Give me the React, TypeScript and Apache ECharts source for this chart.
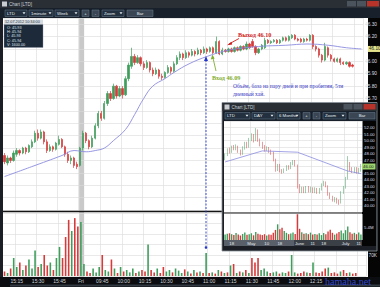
import React, { useEffect, useRef } from 'react';
import * as echarts from 'echarts';

// ---------- main chart (1 minute bars) : [open, close, low, high] ----------
const mainCandles: number[][] = [
  [45.24, 45.19, 45.17, 45.26], [45.18, 45.22, 45.16, 45.24], [45.22, 45.20, 45.18, 45.23], [45.20, 45.26, 45.19, 45.28], [45.25, 45.28, 45.23, 45.30],
  [45.28, 45.26, 45.24, 45.29], [45.26, 45.30, 45.25, 45.31], [45.30, 45.27, 45.25, 45.31], [45.27, 45.32, 45.26, 45.33], [45.31, 45.35, 45.30, 45.37],
  [45.35, 45.42, 45.34, 45.44], [45.42, 45.38, 45.36, 45.45], [45.38, 45.43, 45.37, 45.45], [45.43, 45.35, 45.33, 45.44], [45.35, 45.28, 45.26, 45.37],
  [45.28, 45.31, 45.27, 45.33], [45.31, 45.29, 45.27, 45.32], [45.29, 45.34, 45.28, 45.35], [45.33, 45.37, 45.32, 45.40], [45.37, 45.31, 45.30, 45.38],
  [45.31, 45.25, 45.23, 45.32], [45.25, 45.20, 45.18, 45.27], [45.20, 45.22, 45.17, 45.24], [45.22, 45.16, 45.14, 45.23], [45.17, 45.15, 45.13, 45.19],
  [45.16, 45.30, 45.15, 45.31], [45.30, 45.42, 45.28, 45.44], [45.42, 45.36, 45.34, 45.43], [45.36, 45.31, 45.29, 45.37], [45.31, 45.38, 45.30, 45.40],
  [45.38, 45.48, 45.37, 45.50], [45.48, 45.58, 45.46, 45.60], [45.58, 45.54, 45.52, 45.60], [45.54, 45.66, 45.53, 45.68], [45.66, 45.74, 45.64, 45.76],
  [45.74, 45.70, 45.68, 45.76], [45.70, 45.80, 45.69, 45.82], [45.80, 45.72, 45.70, 45.81], [45.72, 45.78, 45.71, 45.80], [45.78, 45.73, 45.70, 45.80],
  [45.73, 45.86, 45.72, 45.88], [45.86, 45.97, 45.84, 45.99], [45.96, 46.04, 45.94, 46.11], [46.04, 45.99, 45.97, 46.06], [45.99, 46.03, 45.98, 46.05],
  [46.03, 45.98, 45.96, 46.04], [45.98, 45.95, 45.93, 46.00], [45.95, 45.99, 45.94, 46.01], [45.99, 45.93, 45.91, 46.00], [45.93, 45.90, 45.88, 45.95],
  [45.90, 45.93, 45.89, 45.95], [45.93, 45.88, 45.86, 45.94], [45.88, 45.87, 45.85, 45.90], [45.87, 45.91, 45.86, 45.92], [45.91, 45.95, 45.90, 45.97],
  [45.95, 45.92, 45.90, 45.96], [45.92, 45.98, 45.91, 46.00], [45.98, 46.03, 45.97, 46.05], [46.03, 46.06, 46.01, 46.08], [46.06, 46.03, 46.01, 46.07],
  [46.03, 46.07, 46.02, 46.09], [46.07, 46.05, 46.03, 46.08], [46.05, 46.08, 46.04, 46.10], [46.08, 46.06, 46.04, 46.09], [46.06, 46.09, 46.05, 46.11],
  [46.09, 46.07, 46.05, 46.10], [46.07, 46.10, 46.06, 46.12], [46.10, 46.08, 46.06, 46.11], [46.08, 46.11, 46.07, 46.12], [46.11, 46.07, 46.06, 46.12],
  [46.07, 46.16, 46.06, 46.20], [46.16, 46.06, 46.05, 46.17], [46.06, 46.09, 46.05, 46.11], [46.09, 46.08, 46.07, 46.10], [46.08, 46.10, 46.07, 46.11],
  [46.10, 46.08, 46.07, 46.11], [46.08, 46.11, 46.07, 46.12], [46.11, 46.09, 46.08, 46.12], [46.09, 46.12, 46.08, 46.13], [46.12, 46.10, 46.09, 46.13],
  [46.10, 46.14, 46.09, 46.16], [46.14, 46.11, 46.10, 46.15], [46.16, 46.12, 46.11, 46.18], [46.12, 46.07, 46.05, 46.13], [46.07, 46.10, 46.06, 46.11],
  [46.10, 46.13, 46.09, 46.14], [46.11, 46.17, 46.10, 46.19], [46.17, 46.15, 46.14, 46.18], [46.15, 46.16, 46.14, 46.17], [46.16, 46.17, 46.15, 46.18],
  [46.17, 46.15, 46.14, 46.18], [46.15, 46.17, 46.14, 46.18], [46.17, 46.19, 46.16, 46.20], [46.19, 46.17, 46.16, 46.20], [46.17, 46.20, 46.16, 46.21],
  [46.19, 46.21, 46.18, 46.22], [46.21, 46.18, 46.17, 46.22], [46.18, 46.17, 46.16, 46.19], [46.18, 46.16, 46.15, 46.19], [46.16, 46.18, 46.15, 46.19],
  [46.18, 46.17, 46.16, 46.19], [46.17, 46.21, 46.16, 46.22], [46.21, 46.12, 46.10, 46.22], [46.12, 46.10, 46.08, 46.13], [46.10, 46.05, 46.03, 46.11],
  [46.05, 46.01, 45.99, 46.06], [46.01, 46.12, 46.00, 46.15], [46.11, 46.05, 46.03, 46.12], [46.05, 46.02, 46.00, 46.06], [46.02, 46.00, 45.99, 46.03],
  [46.00, 46.02, 45.99, 46.03], [46.02, 45.99, 45.97, 46.03], [45.99, 45.98, 45.97, 46.00], [45.98, 45.99, 45.97, 46.00], [45.99, 45.96, 45.95, 46.00],
  [45.97, 45.96, 45.95, 45.98],
];
// volume, thousands of shares
const mainVolume: number[] = [
  15, 10, 25, 60, 30, 45, 20, 35, 55, 25,
  85, 30, 40, 70, 35, 45, 20, 60, 97, 60,
  130, 187, 150, 193, 165, 180, 40, 15, 10, 25,
  12, 30, 70, 20, 15, 55, 25, 10, 30, 15,
  20, 12, 25, 10, 15, 20, 15, 105, 20, 12,
  25, 10, 30, 15, 20, 12, 25, 18, 10, 22,
  15, 8, 20, 12, 15, 10, 77, 10, 12, 8,
  20, 15, 10, 12, 35, 40, 10, 15, 12, 20,
  10, 60, 45, 60, 20, 25, 15, 10, 12, 15,
  8, 12, 10, 15, 70, 12, 8, 10, 15, 12,
  10, 45, 12, 10, 15, 25, 28, 10, 12, 8,
  15, 20, 10, 12, 8, 10,
];
// moving average: [bar index, value]
const mainMA: number[][] = [
  [0, 45.07], [9, 45.15], [19, 45.24], [23, 45.28], [27, 45.27], [30, 45.28], [33, 45.30], [36, 45.36],
  [40, 45.45], [43, 45.57], [46, 45.70], [49, 45.80], [53, 45.86], [56, 45.91], [61, 45.98], [67, 46.04],
  [74, 46.09], [84, 46.12], [93, 46.13], [100, 46.14], [107, 46.13], [113, 46.11], [118, 46.10],
];
const mainBarCount = 119;
// tick positions (bar index) and their labels; the last two lie under the watermark and are not shown
const mainTickIdx = [4, 11, 18, 25, 32, 39, 46, 53, 60, 67, 74, 81, 88, 95, 102, 109, 116];
const mainTickLabels = ['15:15', '15:30', '15:45', 'Fri', '09:45', '10:00', '10:15', '10:30', '10:45', '11:00', '11:15', '11:30', '11:45', '12:00', '12:15', '', ''];
// lowest price label still visible above the inset window
const mainLowestShownPrice = 45.7;

// ---------- inset chart (daily bars) ----------
const innerCandles: number[][] = [
  [47.3, 47.8, 47.0, 48.0], [47.8, 48.6, 47.6, 48.8], [48.6, 48.2, 48.0, 48.9], [48.3, 49.0, 48.1, 49.2], [49.0, 48.7, 48.5, 49.3],
  [48.7, 49.1, 48.5, 49.4], [49.0, 48.3, 48.1, 49.2], [48.4, 47.9, 47.7, 48.6], [48.0, 48.9, 47.8, 49.1], [48.8, 49.6, 48.6, 49.8],
  [49.6, 49.0, 48.8, 49.8], [49.1, 50.2, 48.9, 50.4], [50.1, 50.9, 49.9, 51.1], [50.8, 50.0, 49.7, 51.0], [50.1, 51.6, 49.9, 51.9],
  [51.5, 50.0, 49.8, 51.7], [50.0, 49.4, 49.1, 50.3], [49.5, 48.9, 48.7, 49.8], [49.0, 48.6, 48.3, 49.3], [48.6, 48.9, 48.4, 49.1],
  [48.9, 48.3, 48.1, 49.0], [48.4, 48.1, 47.8, 48.6], [48.1, 47.0, 46.8, 48.3], [47.0, 45.4, 45.2, 47.2], [45.5, 46.2, 45.3, 46.4],
  [46.2, 45.3, 45.1, 46.4], [45.4, 45.1, 44.9, 45.6], [45.1, 45.5, 45.0, 45.7], [45.4, 46.0, 45.3, 46.2], [46.0, 45.7, 45.5, 46.2],
  [45.8, 46.5, 45.6, 46.7], [46.4, 46.8, 46.2, 47.0], [46.8, 46.2, 46.0, 47.0], [46.2, 42.9, 42.6, 46.3], [43.0, 42.2, 41.9, 43.3],
  [42.2, 42.7, 41.9, 42.9], [42.7, 42.1, 41.9, 42.9], [42.1, 42.8, 41.9, 43.0], [42.8, 42.2, 42.0, 43.0], [42.2, 42.7, 42.0, 42.9],
  [42.7, 42.1, 41.9, 42.8], [42.1, 42.6, 41.9, 42.8], [42.6, 42.0, 41.8, 42.7], [42.0, 42.5, 41.8, 42.7], [42.5, 43.2, 42.3, 43.4],
  [43.2, 43.6, 43.0, 43.8], [43.5, 43.0, 42.8, 43.7], [43.0, 41.7, 41.5, 43.1], [41.8, 41.3, 41.0, 42.0], [41.3, 40.8, 40.6, 41.5],
  [40.8, 41.1, 40.5, 41.3], [41.1, 40.6, 40.3, 41.2], [40.7, 40.4, 40.1, 40.9], [40.5, 42.0, 40.3, 42.2], [42.0, 42.8, 41.8, 43.0],
  [42.8, 44.2, 42.6, 44.4], [44.2, 46.8, 44.0, 47.6], [46.5, 45.6, 45.3, 46.7], [45.6, 45.3, 45.0, 45.9], [45.3, 45.7, 45.0, 45.9],
  [45.7, 45.1, 44.9, 45.9], [45.1, 45.6, 44.9, 45.8], [45.4, 46.0, 45.2, 46.4],
];
// volume, millions of shares
const innerVolume: number[] = [
  2.4, 2.8, 3.0, 2.6, 2.2, 3.1, 2.5, 2.0, 2.7, 3.4,
  2.3, 2.6, 3.0, 2.1, 3.6, 2.8, 2.4, 2.2, 2.6, 2.0,
  2.5, 2.3, 3.2, 4.5, 7.0, 4.8, 5.5, 4.0, 3.2, 2.6,
  2.9, 3.4, 2.7, 11.5, 5.0, 3.5, 2.8, 3.0, 2.6, 3.3,
  2.4, 2.7, 2.5, 3.0, 2.2, 3.1, 2.6, 3.8, 4.6, 3.2,
  2.4, 2.9, 3.6, 4.2, 3.0, 4.4, 6.0, 3.5, 2.8, 3.2,
  2.6, 3.4, 2.5,
];
const innerMA: number[][] = [[0, 46.7], [17, 48.4], [33, 48.2], [56, 45.3], [62, 44.9]];
const innerTickIdx = [3, 12, 19, 25, 34, 40, 45, 55, 61];
const innerTickLabels = ['18', 'May', '10', '18', 'June', '11', '18', 'July', '11'];

const UP = '#3f9e5c';
const DOWN = '#d63a3a';
const GRIDC = '#dadada';
const SANS = 'Liberation Sans, DejaVu Sans, sans-serif';
const SERIF = 'Liberation Serif, DejaVu Serif, serif';

function txt(x: number, y: number, text: string, o: any = {}) {
  const align = o.align ?? 'left';
  return {
    type: 'text', x, y, z: o.z ?? 6, silent: true,
    style: {
      text, fill: o.fill ?? '#dde3e8', fontSize: o.size ?? 5, fontFamily: o.font ?? SANS,
      fontWeight: o.weight ?? 'normal', align, verticalAlign: 'middle', textAlign: align, textVerticalAlign: 'middle',
    },
  };
}
function rect(x: number, y: number, w: number, h: number, fill: string, z: number, stroke?: string, lw = 0.5) {
  return { type: 'rect', z, silent: true, shape: { x, y, width: w, height: h }, style: { fill, stroke: stroke ?? 'none', lineWidth: stroke ? lw : 0 } };
}
function line(x1: number, y1: number, x2: number, y2: number, stroke: string, lw: number, z: number, dash?: number[]) {
  return { type: 'line', z, silent: true, shape: { x1, y1, x2, y2 }, style: { stroke, lineWidth: lw, lineDash: dash ?? null } };
}
function poly(points: number[][], fill: string, z: number) {
  return { type: 'polygon', z, silent: true, shape: { points }, style: { fill } };
}
function dropdown(x: number, y: number, w: number, h: number, label: string, z: number) {
  return [
    rect(x, y, w, h, '#22303f', z, '#6d7e90', 0.5),
    txt(x + 2, y + h / 2, label, { z: z + 1, size: 4.3, fill: '#e8eef3' }),
    poly([[x + w - 4.5, y + h / 2 - 1], [x + w - 1.5, y + h / 2 - 1], [x + w - 3, y + h / 2 + 1]], '#e8eef3', z + 1),
  ];
}
function button(x: number, y: number, w: number, h: number, label: string, z: number) {
  return [
    rect(x, y, w, h, '#3a4654', z, '#6d7e90', 0.5),
    txt(x + w / 2, y + h / 2, label, { z: z + 1, size: 4.3, fill: '#e8eef3', align: 'center' }),
  ];
}
function titleBar(x: number, y: number, w: number, z: number) {
  return [
    rect(x, y, w, 8, '#2a2f35', z),
    rect(x + 2, y + 1.5, 5, 5, '#c9cdd2', z + 1),
    txt(x + 9, y + 4, 'Chart [LTD]', { z: z + 1, size: 4.5, fill: '#c9d1d8' }),
    rect(x + w - 33, y + 1, 9, 5.5, '#4b535c', z + 1),
    rect(x + w - 23, y + 1, 9, 5.5, '#4b535c', z + 1),
    rect(x + w - 13, y + 1, 12, 5.5, '#b8342b', z + 1),
  ];
}

const mainMark = mainMA[mainMA.length - 1][1];
const innerMark = innerCandles[innerCandles.length - 1][1];

function buildOption() {
  const mainCats = Array.from({ length: mainBarCount }, (_, i) => String(i));
  const innerCats = innerCandles.map((_, i) => String(i));
  const mainLabel = (i: number) => { const k = mainTickIdx.indexOf(i); return k >= 0 ? mainTickLabels[k] : ''; };
  const innerLabel = (i: number) => { const k = innerTickIdx.indexOf(i); return k >= 0 ? innerTickLabels[k] : ''; };
  const volItems = mainVolume.map((v, i) => ({ value: v, itemStyle: { color: mainCandles[i][1] >= mainCandles[i][0] ? UP : DOWN } }));
  const innerVolItems = innerVolume.map((v, i) => ({ value: v, itemStyle: { color: innerCandles[i][1] >= innerCandles[i][0] ? UP : DOWN } }));
  const xBase = (gridIndex: number, cats: string[], ticks: number[], z: number) => ({
    type: 'category', gridIndex, data: cats, boundaryGap: true, z,
    axisLine: { show: false }, axisTick: { show: false }, axisLabel: { show: false },
    splitLine: { show: true, interval: (i: number) => ticks.includes(i), lineStyle: { color: GRIDC, width: 0.6 } },
  });
  return {
    animation: false,
    backgroundColor: '#1b1f25',
    grid: [
      { left: 3, top: 18, width: 365, height: 192 },
      { left: 3, top: 213, width: 365, height: 63 },
      { left: 224, top: 121, width: 138, height: 91 },
      { left: 224, top: 214, width: 138, height: 26 },
    ],
    xAxis: [
      xBase(0, mainCats, mainTickIdx, 2),
      { ...xBase(1, mainCats, mainTickIdx, 2), axisLabel: { show: true, interval: 0, margin: 2.5, fontSize: 5, color: '#d0d4d8', fontFamily: SANS, formatter: (_v: string, i: number) => mainLabel(i) } },
      xBase(2, innerCats, innerTickIdx, 22),
      { ...xBase(3, innerCats, innerTickIdx, 22), axisLabel: { show: true, interval: 0, margin: 1.5, fontSize: 4.3, color: '#e4e8ec', fontFamily: SANS, formatter: (_v: string, i: number) => innerLabel(i) } },
    ],
    yAxis: [
      {
        type: 'value', gridIndex: 0, position: 'right', min: 44.8, max: 46.35, interval: 0.1, z: 2,
        axisLine: { show: false }, axisTick: { show: false },
        axisLabel: {
          margin: 2, fontSize: 4.8, color: '#d8dde2', fontFamily: SANS, showMaxLabel: false,
          formatter: (v: number) => (Math.abs(v - mainMark) < 0.05 || v < mainLowestShownPrice - 0.05 ? '' : v.toFixed(2)),
        },
        splitLine: { lineStyle: { color: GRIDC, width: 0.6 } },
      },
      {
        type: 'value', gridIndex: 1, position: 'right', min: 0, max: 210, interval: 35, z: 2,
        axisLine: { show: false }, axisTick: { show: false },
        axisLabel: { margin: 2, fontSize: 4.8, color: '#d8dde2', fontFamily: SANS, formatter: (v: number) => (v === 70 ? '70K' : '') },
        splitLine: { lineStyle: { color: GRIDC, width: 0.6 } },
      },
      {
        type: 'value', gridIndex: 2, position: 'right', min: 39, max: 53, interval: 1, z: 22,
        axisLine: { show: false }, axisTick: { show: false },
        axisLabel: { margin: 2, fontSize: 4.3, color: '#d8dde2', fontFamily: SANS, formatter: (v: number) => (v <= 39 || v >= 53 || Math.abs(v - innerMark) < 0.6 ? '' : v.toFixed(2)) },
        splitLine: { lineStyle: { color: GRIDC, width: 0.6 } },
      },
      {
        type: 'value', gridIndex: 3, position: 'right', min: 0, max: 11.6, interval: 5.4, z: 22,
        axisLine: { show: false }, axisTick: { show: false },
        axisLabel: { margin: 2, fontSize: 4.3, color: '#d8dde2', fontFamily: SANS, formatter: (v: number) => (Math.abs(v - 5.4) < 0.01 ? '5.4M' : '') },
        splitLine: { show: false },
      },
    ],
    series: [
      {
        type: 'candlestick', xAxisIndex: 0, yAxisIndex: 0, z: 3, barWidth: 1.8, data: mainCandles,
        itemStyle: { color: UP, color0: DOWN, borderColor: UP, borderColor0: DOWN, borderWidth: 0.7 },
      },
      {
        type: 'line', xAxisIndex: 0, yAxisIndex: 0, z: 4, data: mainMA, smooth: 0.4, symbol: 'none',
        lineStyle: { color: '#8b8be0', width: 0.9 },
      },
      { type: 'bar', xAxisIndex: 1, yAxisIndex: 1, z: 3, barWidth: 1.6, data: volItems },
      {
        type: 'candlestick', xAxisIndex: 2, yAxisIndex: 2, z: 23, barWidth: 1.3, data: innerCandles,
        itemStyle: { color: UP, color0: DOWN, borderColor: UP, borderColor0: DOWN, borderWidth: 0.5 },
      },
      {
        type: 'line', xAxisIndex: 2, yAxisIndex: 2, z: 24, data: innerMA, symbol: 'none',
        lineStyle: { color: '#8b8be0', width: 0.8 },
      },
      { type: 'bar', xAxisIndex: 3, yAxisIndex: 3, z: 23, barWidth: 1.4, data: innerVolItems },
    ],
  };
}

function buildGraphics(bandX: number, bandW: number, yMain: number, yInner: number) {
  const g: any[] = [];
  // ---- main window chrome ----
  g.push(...titleBar(0, 0, 380, 1));
  g.push(rect(0, 8, 380, 10, '#17202b', 1));
  g.push(...dropdown(5, 10, 22, 6.5, 'LTD', 2));
  g.push(...dropdown(29, 10, 24, 6.5, '1minute', 2));
  g.push(...dropdown(55, 10, 24, 6.5, 'Week', 2));
  g.push(...button(82, 10, 7, 6.5, '+', 2));
  g.push(...button(92, 10, 7, 6.5, '-', 2));
  g.push(...dropdown(102, 10, 22, 6.5, 'Zoom', 2));
  g.push(...button(127, 10, 26, 6.5, 'Bar', 2));
  g.push(rect(3, 18, 365, 259, '#ffffff', 0));
  g.push(rect(bandX - bandW / 2, 18, bandW, 259, '#c9c9c9', 1));
  g.push(rect(368, 18, 12, 259, '#050505', 1));
  g.push(rect(0, 277, 380, 10, '#0b0d10', 1));
  g.push(rect(10, 284.5, 370, 2, '#333a42', 1));
  g.push(line(3, 211.5, 368, 211.5, '#141414', 1.6, 6));
  g.push(rect(368, yMain - 3, 12, 6, '#e4e48c', 6));
  g.push(txt(369, yMain, mainMark.toFixed(2), { z: 7, size: 4.6, fill: '#1a1a1a' }));
  // info box
  g.push(rect(4, 19.5, 39, 5, '#d5dbe1', 6));
  g.push(txt(5, 22, '12.07.2012 10:34:00', { z: 7, size: 3.8, fill: '#2b3440' }));
  g.push(rect(4, 24.5, 39, 23, '#1d2a3a', 6, '#8a96a4', 0.4));
  ['O: 45.93', 'H: 45.94', 'L: 45.93', 'C: 45.94', 'V: 1600.00'].forEach((s, i) => g.push(txt(7, 28 + i * 4.2, s, { z: 7, size: 3.8, fill: '#dfe6ee' })));
  // annotations
  g.push(txt(238, 34, 'Выход 46.10', { z: 7, size: 6.2, fill: '#d01c1c', font: SERIF, weight: 'bold' }));
  g.push(line(239, 38.5, 229, 44, '#d01c1c', 0.9, 7));
  g.push(poly([[227, 45.2], [231.5, 41.8], [232.2, 44.6]], '#d01c1c', 7));
  g.push(line(206, 60, 206, 246, '#2437c9', 0.9, 7, [2, 1.5]));
  g.push(poly([[206, 56], [204, 61], [208, 61]], '#2437c9', 7));
  g.push({ type: 'circle', z: 7, silent: true, shape: { cx: 206, cy: 247.5, r: 1.3 }, style: { fill: '#2437c9' } });
  g.push(line(216, 71, 213, 58, '#7fae2e', 0.9, 7));
  g.push(poly([[212.3, 54.5], [210.8, 59.5], [214.6, 58.6]], '#7fae2e', 7));
  g.push(txt(212, 77, 'Вход 46.09', { z: 7, size: 6.2, fill: '#7fae2e', font: SERIF, weight: 'bold' }));
  g.push(txt(233, 86, 'Объём, база на пару дней и при пробитии, 5ти', { z: 7, size: 5.6, fill: '#3b3bc4', font: SERIF }));
  g.push(txt(233, 94, 'дневный хай.', { z: 7, size: 5.6, fill: '#3b3bc4', font: SERIF }));
  // ---- inset window ----
  g.push(rect(222, 102.5, 155, 148.5, '#1b1f25', 20, '#8c939b', 0.8));
  g.push(...titleBar(222.5, 103, 154, 20));
  g.push(rect(223, 111, 153, 10, '#17202b', 20));
  g.push(...dropdown(225, 112.5, 25, 6.5, 'LTD', 21));
  g.push(...dropdown(252, 112.5, 23, 6.5, 'DAY', 21));
  g.push(...dropdown(277, 112.5, 23, 6.5, '6 Months', 21));
  g.push(...button(303, 112.5, 7, 6.5, '+', 21));
  g.push(...button(313, 112.5, 7, 6.5, '-', 21));
  g.push(...dropdown(323, 112.5, 23, 6.5, 'Zoom', 21));
  g.push(...button(349, 112.5, 26, 6.5, 'Bar', 21));
  g.push(rect(224, 121, 138, 119, '#ffffff', 21));
  g.push(rect(362, 121, 14, 125, '#050505', 21));
  g.push(rect(224, 240, 138, 6, '#3b4047', 21));
  g.push(rect(224, 240, 70, 6, '#59606a', 21));
  g.push(line(224, 213, 362, 213, '#141414', 1.2, 25));
  g.push(rect(362, yInner - 3, 13.5, 6, '#9fd870', 25));
  g.push(txt(363, yInner, innerMark.toFixed(2), { z: 26, size: 4.3, fill: '#1a1a1a' }));
  // watermark
  g.push(txt(348, 281.5, 'hamaha.net', { z: 30, size: 10, fill: '#3347cf', font: SERIF, align: 'center' }));
  return g;
}

export default function App() {
  const ref = useRef<HTMLDivElement>(null);
  useEffect(() => {
    const chart = echarts.init(ref.current as HTMLDivElement, null, { renderer: 'svg' });
    chart.setOption(buildOption() as any);
    const bandX = chart.convertToPixel({ xAxisIndex: 0 } as any, 25) as number;
    const yMain = chart.convertToPixel({ yAxisIndex: 0 } as any, mainMark) as number;
    const yInner = chart.convertToPixel({ yAxisIndex: 2 } as any, innerMark) as number;
    chart.setOption({ graphic: buildGraphics(bandX + 1.5, 5, yMain, yInner) } as any);
    return () => chart.dispose();
  }, []);
  return <div ref={ref} style={{ position: 'absolute', left: 0, top: 0, width: 380, height: 287 }} />;
}
